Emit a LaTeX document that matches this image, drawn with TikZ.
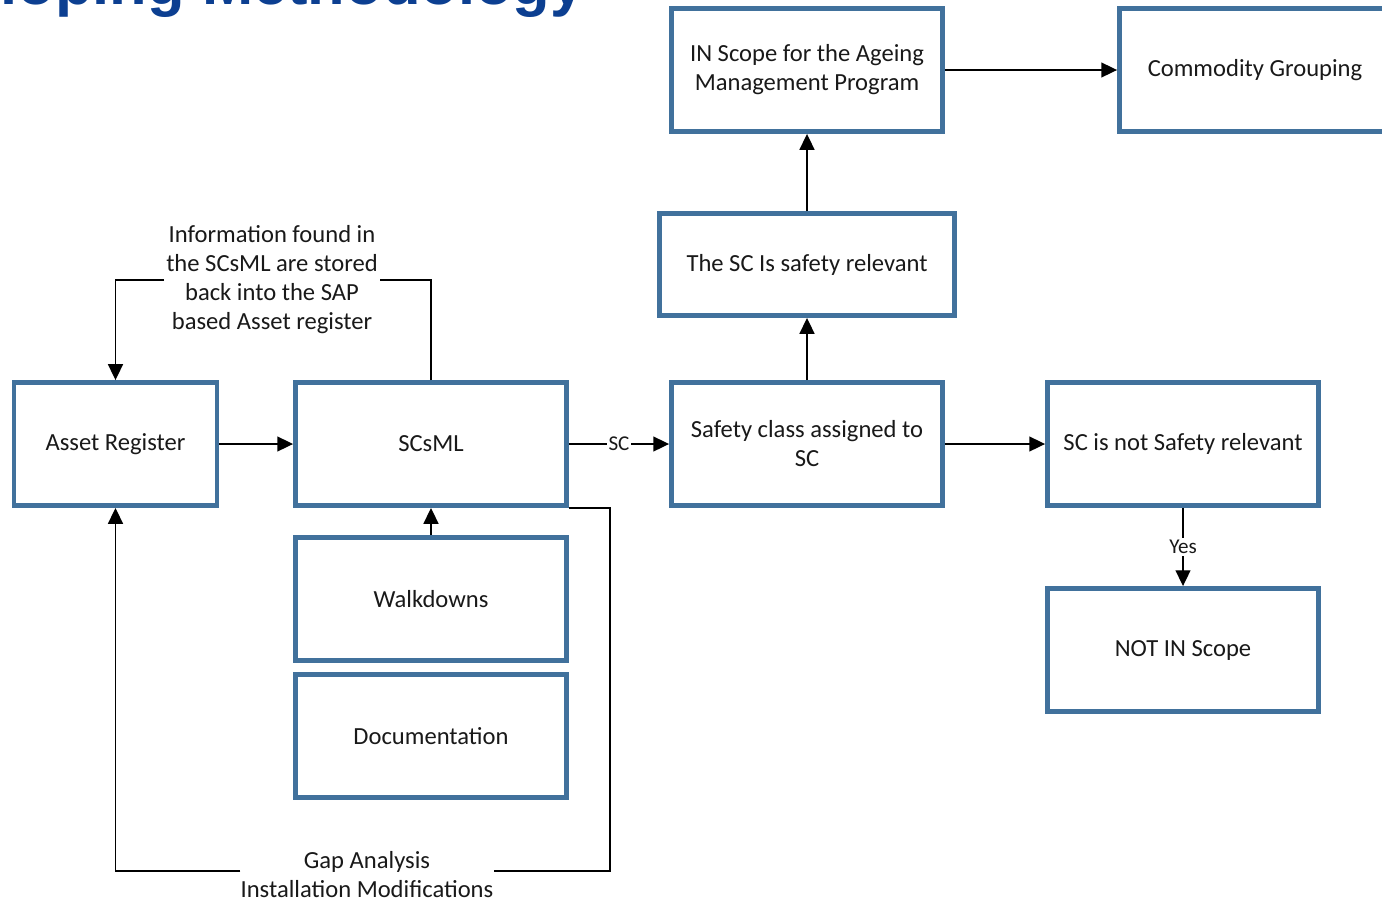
\documentclass[tikz,border=0pt]{standalone}
\usepackage{fontspec}
\setmainfont{Carlito}
\newfontfamily\titlefont{Liberation Sans}
\usetikzlibrary{arrows.meta,positioning}
\definecolor{boxblue}{RGB}{65,113,156}
\definecolor{titleblue}{RGB}{12,63,145}
\definecolor{txt}{RGB}{25,25,25}
\begin{document}
\begin{tikzpicture}[x=0.02cm,y=-0.02cm,
     blk/.style={draw=boxblue,line width=2.8pt,rectangle,fill=white,inner sep=2pt,
                 minimum width=5.42cm,minimum height=2.46cm,align=center,text=txt,
                 font=\fontsize{14}{16.5}\selectfont},
     lbl/.style={fill=white,inner sep=1pt,text=txt,font=\fontsize{12}{14}\selectfont},
     note/.style={fill=white,inner sep=1pt,align=center,text=txt,
                  font=\fontsize{14}{16.5}\selectfont},
     arr/.style={line width=0.85pt,-{Triangle[length=9pt,width=8.5pt]}},
     ln/.style={line width=0.85pt}
     ]
\useasboundingbox (0,0) rectangle (1382,900);

%Title, cut at the top
\node[anchor=base east,inner sep=0,text=titleblue,font=\titlefont\bfseries\fontsize{35}{40}\selectfont]
   (title) at (585,4) {Developing Methodology};

%Left column
\node[blk,minimum width=4.06cm] (AR) at (115.5,444) {Asset Register};
\node[blk] (SCsML) at (431,444) {SCsML};
\node[blk] (WD) at (431,599) {Walkdowns};
\node[blk] (DOC) at (431,736) {Documentation};

%Middle column
\node[blk] (SCA) at (807,444) {Safety class assigned to\\SC};
\node[blk,minimum width=5.9cm,minimum height=2.04cm] (SCR) at (807,264.5) {The SC Is safety relevant};
\node[blk] (INS) at (807,70) {IN Scope for the Ageing\\Management Program};

%Right column
\node[blk] (CG) at (1255,70) {Commodity Grouping};
\node[blk] (NSR) at (1183,444) {SC is not Safety relevant};
\node[blk] (NIS) at (1183,650) {NOT IN Scope};

%Loop labels
\node[note] (info) at (272,280) {Information found in\\the SCsML are stored\\back into the SAP\\based Asset register};
\node[note,inner sep=0pt] (gap) at (367,875) {Gap Analysis\\Installation Modifications};
\coordinate (gr) at (610,871);

%Connectors
\draw[arr] (AR) -- (SCsML);
\draw[arr] (SCsML) -- node[lbl]{SC} (SCA);
\draw[arr] (SCA) -- (SCR);
\draw[arr] (SCR) -- (INS);
\draw[arr] (INS) -- (CG);
\draw[arr] (SCA) -- (NSR);
\draw[arr] (NSR) -- node[lbl]{Yes} (NIS);
\draw[arr] (WD) -- (SCsML);
\draw[ln] (SCsML.north) |- (info.east);
\draw[arr] (info.west) -| (AR.north);
\draw[ln] (SCsML.south east) -| (gr) -- (gr -| gap.east);
\draw[arr] (gr -| gap.west) -| (AR.south);
\end{tikzpicture}
\end{document}
